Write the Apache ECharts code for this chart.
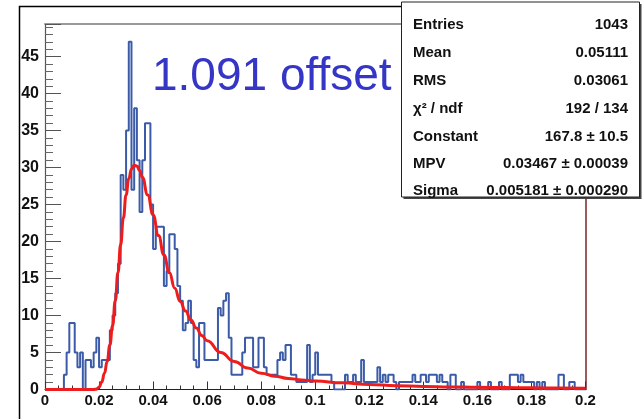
<!DOCTYPE html>
<html><head><meta charset="utf-8">
<script src="https://cdn.jsdelivr.net/npm/echarts@6/dist/echarts.min.js"></script>
<style>html,body{margin:0;padding:0;background:#fff}#c{width:644px;height:419px}</style>
</head><body><div id="c"></div>
<script>
// Histogram: 200 bins from 0 to 0.2
const binLow = 0;
const binWidth = 0.001;
const counts = [
  0,0,0,0,0,0,0,2,5,9,
  9,5,3,5,0,4,4,3,5,7,
  3,4,4,4,8,10,13,17,29,27,
  35,47,27,38,31,24,31,36,36,25,
  19,22,22,22,14,16,21,21,19,14,
  12,8,9,12,9,4,3,9,9,4,
  4,4,4,4,11,10,12,13,7,2,
  2,2,2,5,7,7,7,3,3,7,
  7,3,2,2,2,2,4,5,4,6,
  6,2,2,1,1,1,1,6,1,2,
  5,2,2,2,2,2,1,0,0,0,
  0,2,1,1,2,1,1,4,1,1,
  1,1,1,3,1,2,1,2,2,1,
  0,1,1,1,1,1,2,1,1,2,
  2,1,2,2,2,1,2,1,1,0,
  2,2,0,0,1,0,0,0,0,0,
  1,0,0,0,1,0,0,0,1,0,
  0,0,2,2,2,1,2,1,1,1,
  1,0,1,0,1,0,0,0,0,0,
  2,2,0,0,1,1,0,0,0,0
];
// Landau fit curve
const fitX = [0,0.018,0.019,0.020,0.021,0.022,0.023,0.024,0.025,0.026,0.027,0.028,0.029,0.030,0.031,0.032,0.033,0.034,0.035,0.036,0.038,0.040,0.042,0.044,0.046,0.048,0.050,0.052,0.054,0.056,0.058,0.060,0.065,0.070,0.075,0.080,0.085,0.090,0.095,0.100,0.110,0.120,0.130,0.140,0.150,0.160,0.170,0.180,0.190,0.200];
const fitY = [0,0,0.05,0.3,1.0,2.2,3.8,6.0,8.6,12.0,15.8,19.6,23.2,26.3,28.5,29.8,30.3,30.2,29.6,28.7,26.3,23.6,20.8,18.2,15.8,13.7,11.9,10.6,9.4,8.3,7.3,6.6,5.0,3.8,2.9,2.2,1.8,1.5,1.3,1.15,0.9,0.68,0.52,0.42,0.35,0.3,0.26,0.23,0.2,0.18];
const statLabels = ['Entries','Mean','RMS','\u03c7\u00b2 / ndf','Constant','MPV','Sigma'];
const statValues = ['1043','0.05111','0.03061','192 / 134','167.8 \u00b1 10.5','0.03467 \u00b1 0.00039','0.005181 \u00b1 0.000290'];
const annotation = '1.091 offset';

const histPts = counts.map((c, i) => [binLow + i * binWidth, c]);
histPts.push([binLow + counts.length * binWidth, counts[counts.length - 1]]);
const fitPts = fitX.map((x, i) => [x, fitY[i]]);

const FONT = '"Liberation Sans", Arial, Helvetica, sans-serif';
const chart = echarts.init(document.getElementById('c'), null, {renderer: 'canvas'});

const rowY = [25, 53, 81, 108.5, 137, 163.5, 190.5];
const graphics = [
  {type: 'polyline', shape: {points: [[19.5, 419], [19.5, 6.5], [402, 6.5]]}, style: {stroke: '#000', lineWidth: 1.5, fill: null}, z: 10},
  {type: 'text', x: 152, y: 77, z: 11, style: {text: annotation, font: '46px ' + FONT, fill: '#3535c6', textAlign: 'left', textVerticalAlign: 'middle'}},
  {type: 'rect', shape: {x: 403.5, y: 4, width: 238, height: 195}, style: {fill: '#444'}, z: 12},
  {type: 'rect', shape: {x: 401.5, y: 2, width: 238, height: 195}, style: {fill: '#fff', stroke: '#222', lineWidth: 1}, z: 13}
];
statLabels.forEach((s, i) => {
  graphics.push({type: 'text', x: 413, y: rowY[i], z: 14, style: {text: s, font: 'bold 15px ' + FONT, fill: '#111', textAlign: 'left', textVerticalAlign: 'middle'}});
  graphics.push({type: 'text', x: 628, y: rowY[i], z: 14, style: {text: statValues[i], font: 'bold 15px ' + FONT, fill: '#111', textAlign: 'right', textVerticalAlign: 'middle'}});
});

chart.setOption({
  animation: false,
  backgroundColor: '#fff',
  grid: {left: 45, right: 58.5, top: 24, bottom: 29.5, containLabel: false},
  xAxis: [
    {type: 'value', min: 0, max: 0.2, interval: 0.02, position: 'bottom',
     axisLine: {show: true, onZero: false, lineStyle: {color: '#222', width: 1.2}},
     axisTick: {show: true, inside: true, length: 8, lineStyle: {color: '#333'}},
     minorTick: {show: true, splitNumber: 4, length: 4, lineStyle: {color: '#333'}},
     axisLabel: {fontFamily: FONT, fontWeight: 'bold', fontSize: 15, color: '#111', margin: 4},
     splitLine: {show: false}},
    {type: 'value', min: 0, max: 0.2, position: 'top',
     axisLine: {show: true, onZero: false, lineStyle: {color: '#999', width: 2}},
     axisTick: {show: false}, axisLabel: {show: false}, splitLine: {show: false}}
  ],
  yAxis: [
    {type: 'value', min: 0, max: 49.4, interval: 5, position: 'left',
     axisLine: {show: true, onZero: false, lineStyle: {color: '#555', width: 1.2}},
     axisTick: {show: true, inside: true, length: 16, lineStyle: {color: '#555'}},
     minorTick: {show: true, splitNumber: 5, length: 8, lineStyle: {color: '#666'}},
     axisLabel: {fontFamily: FONT, fontWeight: 'bold', fontSize: 16, color: '#111', margin: 6, showMaxLabel: false},
     splitLine: {show: false}},
    {type: 'value', min: 0, max: 49.4, position: 'right',
     axisLine: {show: true, onZero: false, lineStyle: {color: '#7a2424', width: 1.5}},
     axisTick: {show: false}, axisLabel: {show: false}, splitLine: {show: false}}
  ],
  series: [
    {type: 'line', name: 'hist', data: histPts, step: 'end', xAxisIndex: 0, yAxisIndex: 0,
     showSymbol: false, symbol: 'none', lineStyle: {color: '#3b5ba9', width: 2}, z: 3},
    {type: 'line', name: 'fit', data: fitPts, smooth: true, smoothMonotone: 'x', xAxisIndex: 0, yAxisIndex: 0,
     showSymbol: false, symbol: 'none', lineStyle: {color: '#ee1c1c', width: 3}, z: 4}
  ],
  graphic: graphics
});
</script></body></html>
